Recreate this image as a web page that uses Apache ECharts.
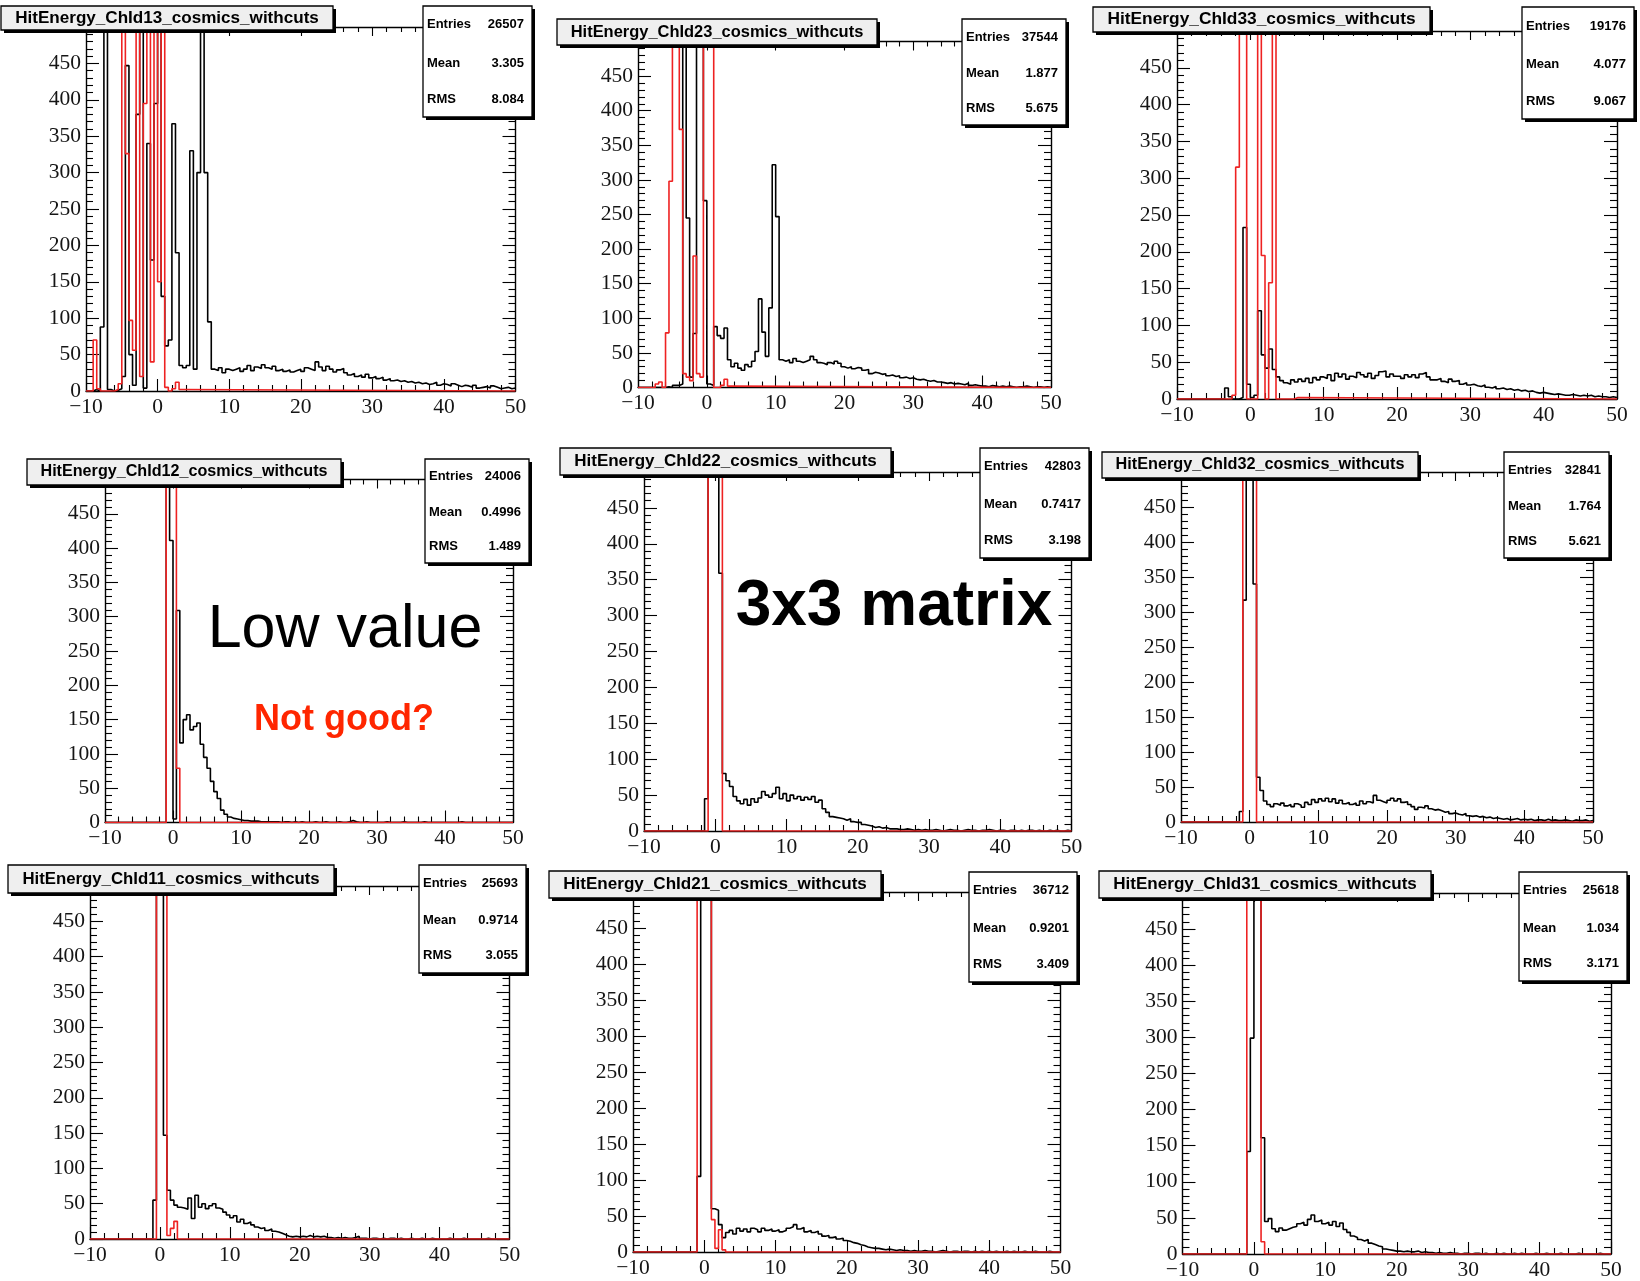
<!DOCTYPE html>
<html>
<head>
<meta charset="utf-8">
<script src="https://cdn.jsdelivr.net/npm/echarts@6/dist/echarts.min.js"></script>
<style>
  html, body { margin: 0; padding: 0; background: #fff; }
  #chart { width: 1640px; height: 1281px; }
</style>
</head>
<body>
<div id="chart"></div>
<script>
// Histogram range and binning (energy axis, counts on y)
const X_MIN = -10, X_MAX = 50, Y_MAX = 500, BIN = 0.5;
const xTickStep = 10, yTickStep = 50;

// Panel titles, row by row
const titles = [
  'HitEnergy_ChId13_cosmics_withcuts', 'HitEnergy_ChId23_cosmics_withcuts', 'HitEnergy_ChId33_cosmics_withcuts',
  'HitEnergy_ChId12_cosmics_withcuts', 'HitEnergy_ChId22_cosmics_withcuts', 'HitEnergy_ChId32_cosmics_withcuts',
  'HitEnergy_ChId11_cosmics_withcuts', 'HitEnergy_ChId21_cosmics_withcuts', 'HitEnergy_ChId31_cosmics_withcuts'
];
// Statistics box contents
const entries = ['26507', '37544', '19176', '24006', '42803', '32841', '25693', '36712', '25618'];
const means   = ['3.305', '1.877', '4.077', '0.4996', '0.7417', '1.764', '0.9714', '0.9201', '1.034'];
const rmsVals = ['8.084', '5.675', '9.067', '1.489', '3.198', '5.621', '3.055', '3.409', '3.171'];

// Black histograms: counts per 0.5 bin from -10 to 50 (120 bins)
const ch13Black = [
  0,0,2,0,88,600,2,0,1,3, 20,447,50,8,380,600,4,340,180,395,
  600,130,62,70,367,190,35,32,35,330, 30,300,600,300,95,30,28,32,25,30,
  28,30,32,27,30,35,28,33,31,36, 32,30,34,28,30,27,29,26,28,30,
  27,32,30,28,40,33,28,34,30,26, 29,31,25,22,24,20,22,19,23,18,
  20,17,19,15,17,14,15,13,14,12, 13,11,12,10,11,9,10,12,8,10,
  9,7,10,8,6,8,7,5,8,4, 5,6,4,7,5,3,4,5,3,4
];
const ch23Black = [
  0,0,0,0,0,0,0,0,1,0, 3,3,5,600,245,15,78,600,600,270,
  5,3,88,75,71,86,40,30,35,28, 25,33,30,38,52,128,80,45,115,322,
  247,40,38,40,36,42,38,36,38,40, 45,40,36,35,33,36,34,38,35,30,
  28,30,27,29,28,25,26,20,22,21, 19,20,17,18,16,17,14,15,13,14,
  12,11,12,10,9,10,8,8,7,6, 7,5,6,5,4,6,3,4,3,2,
  2,1,3,2,1,2,1,2,1,0, 1,1,2,1,0,1,1,0,1,0
];
const ch33Black = [
  0,0,0,0,0,0,0,0,0,0, 0,0,0,15,3,0,0,2,233,20,
  2,5,120,60,42,68,40,30,25,22, 20,26,23,27,24,28,22,29,26,30,
  28,33,25,35,30,34,27,31,29,36, 33,30,35,28,32,37,38,30,34,31,
  31,28,33,30,33,29,34,36,30,26, 26,28,24,22,27,24,25,20,22,19,
  20,18,17,19,16,15,17,14,15,13, 14,12,13,11,12,10,11,9,8,9,
  8,7,6,7,6,5,5,6,5,4, 5,4,5,3,4,3,3,2,3,2
];
const ch12Black = [
  0,0,0,0,0,0,0,0,0,0, 0,0,0,0,0,0,0,0,600,411,
  5,309,116,150,157,135,140,145,114,95, 79,60,45,35,18,12,8,6,5,4,
  3,3,2,2,2,1,1,1,1,1, 1,0,1,1,0,1,0,1,0,0,
  0,1,0,0,1,0,0,0,1,0, 0,1,3,1,0,0,1,0,0,0,
  0,0,1,0,0,0,0,1,0,0, 0,0,0,1,0,0,0,0,0,0,
  0,0,0,0,1,0,0,0,0,0, 0,0,0,0,0,0,0,0,0,0
];
const ch22Black = [
  0,0,0,0,0,0,0,0,0,0, 0,0,0,0,0,0,0,45,600,600,
  600,359,80,70,62,48,42,38,44,36, 45,40,46,55,50,47,52,61,45,52,
  42,50,45,48,43,47,44,48,40,43, 31,26,20,19,18,17,15,17,13,12,
  12,9,8,7,5,6,4,5,3,3, 3,2,2,3,2,1,2,1,2,1,
  1,2,1,0,1,2,1,1,0,1, 2,1,1,0,1,1,2,1,0,1,
  1,0,1,1,0,1,0,1,1,0, 1,0,0,1,0,1,0,0,1,0
];
const ch32Black = [
  0,0,0,0,0,0,0,0,0,0, 0,0,0,0,0,0,0,15,317,600,
  600,340,64,45,30,25,22,26,24,27, 23,25,22,26,24,21,28,25,32,28,
  33,30,34,29,33,27,31,26,28,25, 27,24,30,26,29,27,38,31,29,27,
  31,34,30,33,28,29,25,22,18,21, 20,23,19,17,18,16,14,15,12,13,
  11,10,12,9,8,9,7,8,6,7, 5,6,5,4,5,3,4,5,3,4,
  3,4,2,3,3,2,4,2,3,2, 2,3,2,1,3,2,2,3,1,2
];
const ch11Black = [
  0,0,0,0,0,0,0,0,0,0, 0,0,0,0,0,0,0,0,55,600,
  600,147,69,55,48,45,44,42,58,29, 62,45,50,43,47,50,44,42,38,34,
  30,33,24,28,22,24,20,17,15,16, 12,14,11,10,8,6,4,3,4,3,
  4,3,5,3,4,3,4,2,2,1, 2,1,2,1,1,2,4,1,1,0,
  1,1,0,1,0,1,1,0,1,0, 0,1,0,0,1,0,0,1,0,0,
  0,0,1,0,0,0,1,0,0,0, 0,0,0,1,0,0,0,0,0,0
];
const ch21Black = [
  0,0,0,0,0,0,0,0,0,0, 0,0,0,0,0,0,0,0,105,600,
  600,600,60,58,38,20,27,30,25,33, 29,32,28,33,31,28,33,30,32,29,
  31,28,30,33,35,38,32,34,28,30, 27,29,25,22,23,20,21,18,19,16,
  15,13,12,10,9,7,6,5,5,4, 3,4,3,2,3,2,2,1,2,1,
  1,2,1,1,0,1,2,1,0,1, 1,0,1,1,0,1,0,1,0,1,
  0,1,0,0,1,0,1,0,0,1, 0,0,1,0,0,0,1,0,0,0
];
const ch31Black = [
  0,0,0,0,0,0,0,0,0,0, 0,0,0,0,0,0,0,0,142,299,
  600,600,161,45,49,35,31,36,33,35, 37,38,42,44,40,48,54,45,47,42,
  44,40,45,38,43,34,30,25,23,20, 18,20,15,13,11,10,7,6,5,4,
  4,3,4,3,3,4,2,3,2,2, 1,2,1,1,2,1,1,0,1,1,
  0,1,1,0,1,0,0,1,0,1, 0,0,1,0,1,0,0,0,1,0,
  0,1,0,0,0,1,0,0,0,0, 1,0,0,0,0,0,1,0,0,0
];

// Red histograms: first bin edge and counts per 0.5 bin (zero elsewhere)
const ch13RedStart = -9;
const ch13Red = [70,3,0,0,0,0,2,10,600,326,97,56,600,20,395,600,40,600,150,600,5,0,3,12,2];
const ch23RedStart = -7.5;
const ch23Red = [5,8,0,79,298,600,600,373,20,15,10,190,20,15,600,600,600,0,0,3,12,2];
const ch33RedStart = -2.5;
const ch33Red = [5,315,600,600,0,0,0,600,195,0,158,600,0,0,0,0,0,2];
const ch12RedStart = -1;
const ch12Red = [600,600,600,79];
const ch22RedStart = -1;
const ch22Red = [600,600,600,600];
const ch32RedStart = -1;
const ch32Red = [600,600,600,600];
const ch11RedStart = -0.5;
const ch11Red = [600,600,600,5,15,25];
const ch21RedStart = -1;
const ch21Red = [600,600,600,600,45,5,31,3];
const ch31RedStart = -1;
const ch31Red = [600,600,600,600,17];

const blackSets = [ch13Black, ch23Black, ch33Black, ch12Black, ch22Black, ch32Black, ch11Black, ch21Black, ch31Black];
const redSets = [
  [ch13RedStart, ch13Red], [ch23RedStart, ch23Red], [ch33RedStart, ch33Red],
  [ch12RedStart, ch12Red], [ch22RedStart, ch22Red], [ch32RedStart, ch32Red],
  [ch11RedStart, ch11Red], [ch21RedStart, ch21Red], [ch31RedStart, ch31Red]
];

// Page layout: plot frame [left, top, width, height], title pave and stats pave [x0, y0, x1, y1]
const frames = [
  [86, 27, 429.5, 364], [638, 41.5, 413, 346], [1177, 31, 440, 368],
  [105, 479.5, 408, 343], [644, 472, 427.5, 359], [1181, 472, 412, 350],
  [90, 886, 419.5, 353], [633, 892, 427.5, 360], [1182.5, 893, 428.5, 361]
];
const titleBoxes = [
  [1, 6, 333, 30], [557, 19, 877, 45], [1093, 7, 1430, 32],
  [27, 459, 341, 485], [560, 448, 891, 475], [1102, 452, 1418, 478],
  [8, 865, 334, 893], [549, 871, 881, 898], [1099, 871, 1431, 898]
];
const statBoxes = [
  [423, 6, 532, 117], [962, 19, 1066, 125], [1522, 7, 1634, 119],
  [425, 459, 529, 563], [980, 448, 1089, 558], [1504, 452, 1609, 558],
  [419, 865, 526, 973], [969, 872, 1077, 982], [1519, 872, 1627, 981]
];

// Turn a binned histogram into a step outline across the full axis range
function outline(start, values) {
  const pts = [];
  if (start > X_MIN) pts.push([X_MIN, 0], [start, 0]);
  values.forEach((v, i) => {
    const a = start + i * BIN;
    pts.push([a, v], [a + BIN, v]);
  });
  const end = start + values.length * BIN;
  if (end < X_MAX) pts.push([end, 0], [X_MAX, 0]);
  return pts;
}

const fmtX = v => (v < 0 ? '\u2212' + Math.abs(v) : String(v));
const SERIF = '"Liberation Serif", "DejaVu Serif", serif';
const SANS = '"Liberation Sans", Arial, sans-serif';
const frameLine = { show: true, onZero: false, lineStyle: { color: '#000', width: 1.4 } };

const option = {
  animation: false,
  backgroundColor: '#ffffff',
  grid: [], xAxis: [], yAxis: [], series: [],
  graphic: { elements: [] }
};

frames.forEach((f, k) => {
  const [left, top, width, height] = f;
  option.grid.push({ left, top, width, height, containLabel: false, outerBoundsMode: 'none', show: false });

  const tickStyle = { color: '#000', width: 1.1 };
  // bottom axis with labels
  option.xAxis.push({
    type: 'value', gridIndex: k, position: 'bottom', min: X_MIN, max: X_MAX, interval: xTickStep,
    axisLine: frameLine,
    axisTick: { show: true, inside: true, length: 12, lineStyle: tickStyle },
    minorTick: { show: true, splitNumber: 5, length: 6, lineStyle: tickStyle },
    splitLine: { show: false }, minorSplitLine: { show: false },
    axisLabel: { show: true, margin: 5, fontFamily: SERIF, fontSize: 21.5, color: '#151515', formatter: fmtX,
                 showMinLabel: true, showMaxLabel: true }
  });
  // mirrored top axis
  option.xAxis.push({
    type: 'value', gridIndex: k, position: 'top', min: X_MIN, max: X_MAX, interval: xTickStep,
    axisLine: frameLine,
    axisTick: { show: true, inside: true, length: 9, lineStyle: tickStyle },
    minorTick: { show: true, splitNumber: 5, length: 5, lineStyle: tickStyle },
    splitLine: { show: false }, axisLabel: { show: false }
  });
  // left axis with labels
  option.yAxis.push({
    type: 'value', gridIndex: k, position: 'left', min: 0, max: Y_MAX, interval: yTickStep,
    axisLine: frameLine,
    axisTick: { show: true, inside: true, length: 13, lineStyle: tickStyle },
    minorTick: { show: true, splitNumber: 5, length: 7, lineStyle: tickStyle },
    splitLine: { show: false }, minorSplitLine: { show: false },
    axisLabel: { show: true, margin: 5, fontFamily: SERIF, fontSize: 21.5, color: '#151515',
                 showMinLabel: true, showMaxLabel: false }
  });
  // mirrored right axis
  option.yAxis.push({
    type: 'value', gridIndex: k, position: 'right', min: 0, max: Y_MAX, interval: yTickStep,
    axisLine: frameLine,
    axisTick: { show: true, inside: true, length: 13, lineStyle: tickStyle },
    minorTick: { show: true, splitNumber: 5, length: 7, lineStyle: tickStyle },
    splitLine: { show: false }, axisLabel: { show: false }
  });

  option.series.push({
    type: 'line', xAxisIndex: 2 * k, yAxisIndex: 2 * k,
    data: outline(X_MIN, blackSets[k]),
    showSymbol: false, symbol: 'none', clip: true, z: 3,
    lineStyle: { color: '#000', width: 1.6 }
  });
  option.series.push({
    type: 'line', xAxisIndex: 2 * k, yAxisIndex: 2 * k,
    data: outline(redSets[k][0], redSets[k][1]),
    showSymbol: false, symbol: 'none', clip: true, z: 4,
    lineStyle: { color: '#ee2222', width: 1.6 }
  });

  // title pave
  const t = titleBoxes[k];
  const tw = t[2] - t[0], th = t[3] - t[1];
  const els = option.graphic.elements;
  els.push({ type: 'rect', z: 100, shape: { x: t[0] + 3, y: t[1] + 3, width: tw, height: th }, style: { fill: '#000' } });
  els.push({ type: 'rect', z: 101, shape: { x: t[0], y: t[1], width: tw, height: th },
             style: { fill: '#efefef', stroke: '#000', lineWidth: 1.3 } });
  els.push({ type: 'text', z: 102, x: t[0] + tw / 2, y: t[1] + th / 2,
             style: { text: titles[k], fontFamily: SANS, fontWeight: 'bold', fontSize: tw * 0.915 / 17.78,
                      fill: '#000', align: 'center', verticalAlign: 'middle', textAlign: 'center', textVerticalAlign: 'middle' } });

  // statistics pave
  const s = statBoxes[k];
  const sw = s[2] - s[0], sh = s[3] - s[1];
  els.push({ type: 'rect', z: 100, shape: { x: s[0] + 3, y: s[1] + 3, width: sw, height: sh }, style: { fill: '#000' } });
  els.push({ type: 'rect', z: 101, shape: { x: s[0], y: s[1], width: sw, height: sh },
             style: { fill: '#fff', stroke: '#000', lineWidth: 1.3 } });
  const rows = [['Entries', entries[k]], ['Mean', means[k]], ['RMS', rmsVals[k]]];
  const fr = [0.17, 0.515, 0.84];
  rows.forEach((r, i) => {
    const y = s[1] + sh * fr[i];
    els.push({ type: 'text', z: 102, x: s[0] + 4, y,
               style: { text: r[0], fontFamily: SANS, fontWeight: 'bold', fontSize: 13, fill: '#000',
                        align: 'left', verticalAlign: 'middle', textAlign: 'left', textVerticalAlign: 'middle' } });
    els.push({ type: 'text', z: 102, x: s[2] - 8, y,
               style: { text: r[1], fontFamily: SANS, fontWeight: 'bold', fontSize: 13, fill: '#000',
                        align: 'right', verticalAlign: 'middle', textAlign: 'right', textVerticalAlign: 'middle' } });
  });
});

// Annotations placed over the panels
const notes = [
  { text: 'Low value', x: 345, y: 630, size: 61, weight: 'normal', color: '#000' },
  { text: 'Not good?', x: 344, y: 720, size: 36, weight: 'bold', color: '#ff2600' },
  { text: '3x3 matrix', x: 894, y: 607, size: 64, weight: 'bold', color: '#000' }
];
notes.forEach(n => {
  option.graphic.elements.push({
    type: 'text', z: 110, x: n.x, y: n.y,
    style: { text: n.text, fontFamily: SANS, fontWeight: n.weight, fontSize: n.size, fill: n.color,
             align: 'center', verticalAlign: 'middle', textAlign: 'center', textVerticalAlign: 'middle' }
  });
});

const chart = echarts.init(document.getElementById('chart'), null, { renderer: 'canvas' });
chart.setOption(option);
</script>
</body>
</html>
